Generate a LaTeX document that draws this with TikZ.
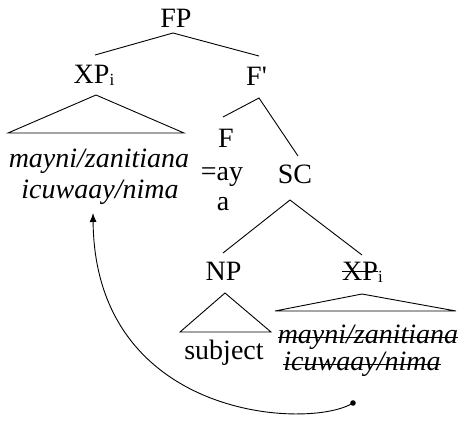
\documentclass[tikz,border=0pt]{standalone}
\usepackage{fontspec}
\setmainfont{Liberation Serif}
\newfontfamily\plainserif{Liberation Serif}
\usetikzlibrary{arrows.meta}
\newcommand\mystrike[2]{\setbox0\hbox{#2}\rlap{\rule[#1]{\wd0}{0.9pt}}\box0}
\newcommand\subi{\raisebox{-2pt}{\fontsize{17}{17}\selectfont i}}
\tikzset{
  lbl/.style={inner sep=0pt, anchor=base, font=\fontsize{28}{32}\selectfont},
  edge/.style={line width=0.9pt},
}
\begin{document}
\begin{tikzpicture}[x=1pt,y=-1pt]
\useasboundingbox (0,0) rectangle (463,421);
% labels
\node[lbl] (fp) at (176,27) {FP};
\node[lbl] (xp) at (94,83) {XP\subi};
\node[lbl] (fbar) at (256.5,85) {F{\plainserif '}};
\node[lbl] (f) at (226,147) {F};
\node[lbl] (eqay) at (222,180) {=ay};
\node[lbl] (a) at (223,210) {a};
\node[lbl] (sc) at (295,183) {SC};
\node[lbl] (np) at (223.5,280) {NP};
\node[lbl] (xpb) at (362.5,280) {\mystrike{0.28em}{XP}\subi};
\node[lbl] (t1a) at (99,167) {\itshape mayni/zanitiana};
\node[lbl] (t1b) at (100,198) {\itshape icuwaay/nima};
\node[lbl] (t2a) at (368,343) {\itshape\mystrike{0.19em}{mayni/zanitiana}};
\node[lbl] (t2b) at (362,370) {\itshape\mystrike{0.19em}{icuwaay/nima}};
\node[lbl] (subj) at (224,359) {subject};
% coordinates
\coordinate (fpB) at (173,33);
\coordinate (xpT) at (95,55);
\coordinate (fbT) at (259,56);
\coordinate (fbB) at (259,98);
\coordinate (fT) at (223,117);
\coordinate (scT) at (298,156);
\coordinate (scB) at (290,200);
\coordinate (npT) at (223,253);
\coordinate (xpbT) at (362,255);
\coordinate (dot) at (353,403);
\coordinate (tip) at (93,213);
% tree edges
\draw[edge] (xpT) -- (fpB) -- (fbT);
\draw[edge] (fT) -- (fbB) -- (scT);
\draw[edge] (npT) -- (scB) -- (xpbT);
% triangles
\draw[edge] (96,95) -- (8,133) -- (184,133) -- cycle;
\draw[edge] (225,293) -- (180,332) -- (271,332) -- cycle;
\draw[edge] (362,294) -- (275,311) -- (456,311) -- cycle;
% movement arrow
\fill (dot) circle (2.8);
\draw[edge,-{Latex[length=9pt,width=7pt]}] (dot) .. controls (310,430) and (95,420) .. (tip);
\end{tikzpicture}
\end{document}
